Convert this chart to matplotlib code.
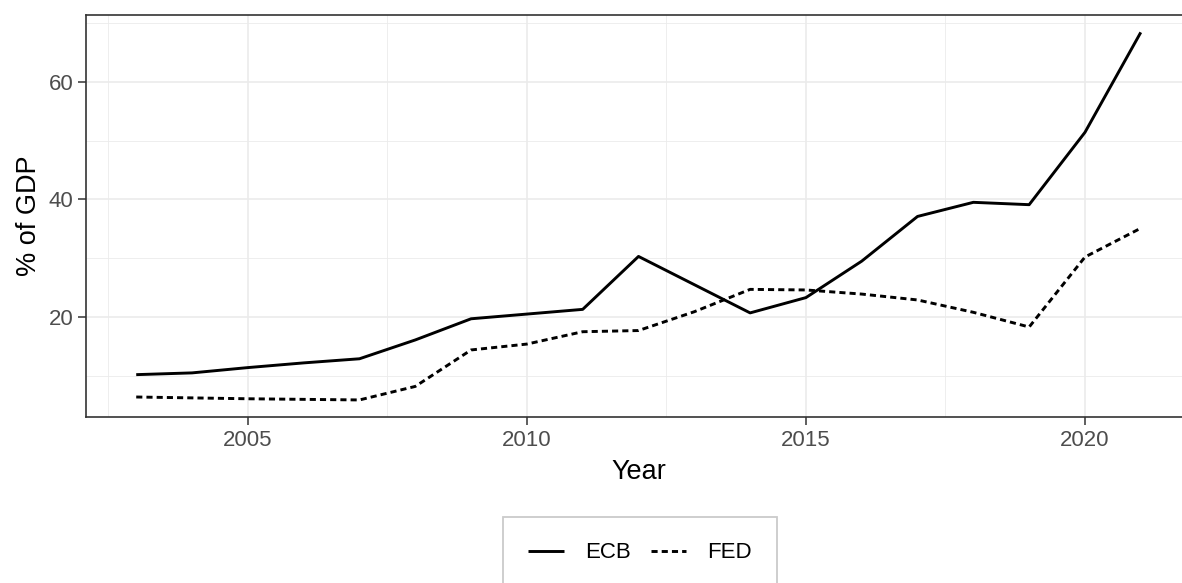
import matplotlib.pyplot as plt
import numpy as np

plt.rcParams['font.family'] = ['Liberation Sans', 'DejaVu Sans']

# Balance sheet size, % of GDP
years = list(range(2003, 2022))
ecb = [10.2, 10.5, 11.4, 12.2, 12.9, 16.1, 19.7, 20.5, 21.3, 30.3,
       25.5, 20.7, 23.3, 29.5, 37.1, 39.5, 39.1, 51.4, 68.4]
fed = [6.4, 6.25, 6.1, 6.0, 5.9, 8.2, 14.4, 15.4, 17.5, 17.7,
       20.9, 24.7, 24.6, 23.9, 22.9, 20.8, 18.3, 30.2, 35.1]

W, H = 1182, 583
fig = plt.figure(figsize=(W / 100, H / 100), dpi=100)
# panel runs a bit past the right edge (picture is cropped there)
ax = fig.add_axes([86 / W, 1 - 417 / H, (1191 - 86) / W, (417 - 15) / H])

ax.plot(years, ecb, color='black', lw=2.1, label='ECB', solid_capstyle='butt')
ax.plot(years, fed, color='black', lw=2.1, ls=(0, (2.1, 1.4)), label='FED')

ax.set_xlim(2002.1, 2021.9)
ax.set_ylim(3.0, 71.35)
ax.set_xticks([2005, 2010, 2015, 2020])
ax.set_yticks([20, 40, 60])
ax.set_xticks([2002.5, 2007.5, 2012.5, 2017.5], minor=True)
ax.set_yticks([10, 30, 50, 70], minor=True)

# theme_bw look
ax.grid(which='major', color='#EBEBEB', lw=1.2)
ax.grid(which='minor', color='#EBEBEB', lw=0.6)
ax.set_axisbelow(True)
for s in ax.spines.values():
    s.set_color('#333333')
    s.set_linewidth(1.2)
ax.tick_params(which='major', length=5.6, width=1.1, color='#333333',
               labelcolor='#4D4D4D', labelsize=16, pad=3.5)
ax.tick_params(which='minor', length=0)

ax.set_xlabel('Year', fontsize=19.5, labelpad=6)
ax.set_ylabel('% of GDP', fontsize=19.5, labelpad=5)

leg = fig.legend(loc='center', bbox_to_anchor=(640 / W, 1 - 553 / H), ncol=2,
                 fontsize=16, frameon=True, fancybox=False, handlelength=1.6,
                 handletextpad=0.95, columnspacing=0.9, borderpad=1.15)
leg.get_frame().set_edgecolor('#BEBEBE')
leg.get_frame().set_linewidth(1.3)

fig.savefig('out.png', dpi=100)
